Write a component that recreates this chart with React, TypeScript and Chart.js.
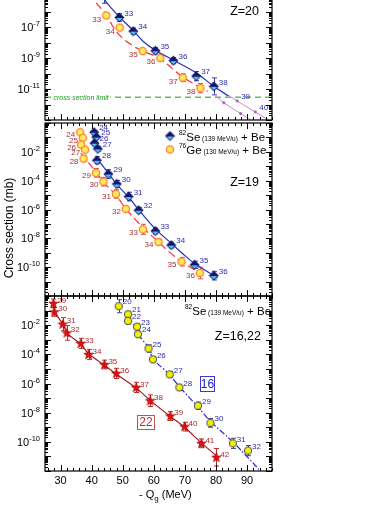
import React, { useEffect, useRef } from "react";
import { Chart, registerables } from "chart.js";

Chart.register(...registerables);

const FONT = '"Liberation Sans", Arial, Helvetica, sans-serif';

// ---------- shared x axis (-Qg, MeV)
const X_MIN = 25;
const X_MAX = 98;
const X_TICK_LABELS = [30, 40, 50, 60, 70, 80, 90];

// ---------- Z = 20 panel
const z20SeA = ["32", "33", "34", "35", "36", "37", "38"];
const z20SeQ = [44.0, 48.9, 53.4, 60.5, 66.3, 73.6, 79.3];
const z20SeSigma = [1.8e-5, 4.3e-7, 5.6e-8, 3.0e-9, 6.9e-10, 6.9e-11, 1.5e-11];
const z20SeErr = [0.7, 0.25, 0.2, 0.2, 0.2, 0.3, 0.55];

const z20GeA = ["32", "33", "34", "35", "36", "37", "38"];
const z20GeQ = [40.5, 44.7, 49.0, 56.4, 62.1, 69.3, 75.0];
const z20GeSigma = [1.6e-5, 5.8e-7, 9.5e-8, 2.9e-9, 1.0e-9, 5.5e-11, 1.15e-11];
const z20GeErr = [0.3, 0.15, 0.15, 0.1, 0.15, 0.25, 0.3];

const z20SeFitQ = [42.5, 44.0, 46.5, 48.9, 53.4, 56.6, 60.5, 66.3, 74.0, 79.2, 84.0];
const z20SeFitSigma = [2.5e-5, 6.6e-6, 1.6e-6, 4.7e-7, 6.0e-8, 1.2e-8, 3.2e-9, 7.4e-10, 1.0e-10, 1.55e-11, 3.6e-12];
const z20GeFitQ = [39.5, 40.5, 44.7, 47.3, 49.9, 53.3, 57.3, 62.1, 69.2, 75.0, 77.3];
const z20GeFitSigma = [1.8e-5, 6.6e-6, 6.3e-7, 7.9e-8, 2.0e-8, 6.3e-9, 2.5e-9, 8.9e-10, 6.3e-11, 1.26e-11, 7.1e-12];

const z20ExtA = ["39", "40"];
const z20ExtQ = [86.8, 92.6];
const z20ExtSigma = [1.7e-12, 3.3e-13];
const z20ExtLineQ = [79.3, 86.8, 92.6, 98.0];
const z20ExtLineSigma = [1.5e-11, 1.7e-12, 3.3e-13, 7.4e-14];
const z20Ext2Q = [82.5, 87.9];
const z20Ext2Sigma = [1.3e-12, 2.6e-13];
const z20Ext2LineQ = [79.3, 82.5, 87.9, 91.5];
const z20Ext2LineSigma = [4.5e-12, 1.3e-12, 2.6e-13, 9e-14];
const CROSS_SECTION_LIMIT = 3e-12;

// ---------- Z = 19 panel
const z19A = ["24", "25", "26", "27", "28", "29", "30", "31", "32", "33", "34", "35", "36"];
const z19SeQ = [40.8, 41.5, 40.9, 42.0, 41.7, 45.4, 48.1, 51.9, 55.1, 60.5, 65.6, 73.1, 79.3];
const z19SeSigma = [0.23, 0.105, 0.04, 0.016, 2.6e-3, 2.9e-4, 5.9e-5, 7.9e-6, 8.9e-7, 3.2e-8, 3.4e-9, 1.45e-10, 2.6e-11];
const z19SeErr = [0.12, 0.12, 0.12, 0.15, 0.25, 0.3, 0.25, 0.3, 0.2, 0.2, 0.2, 0.25, 0.3];
const z19GeQ = [36.3, 37.2, 36.6, 37.9, 37.4, 41.4, 43.8, 47.8, 51.0, 56.5, 61.5, 68.9, 74.8];
const z19GeSigma = [0.23, 0.093, 0.032, 0.014, 3.4e-3, 3.5e-4, 8.5e-5, 1.2e-5, 1.1e-6, 4.2e-8, 5.6e-9, 2.4e-10, 3.9e-11];
const z19GeErr = [0.12, 0.12, 0.12, 0.12, 0.2, 0.3, 0.3, 0.3, 0.15, 0.35, 0.2, 0.3, 0.4];

const z19SeFitQ = [41.5, 45.4, 48.1, 51.9, 55.1, 60.5, 65.6, 70.0, 73.1, 80.5];
const z19SeFitSigma = [4.0e-3, 3.2e-4, 5.6e-5, 7.1e-6, 1.0e-6, 4.5e-8, 4.5e-9, 6.3e-10, 1.8e-10, 1.8e-11];
const z19GeFitQ = [36.5, 41.4, 43.8, 47.8, 51.0, 56.5, 61.5, 65.0, 68.9, 75.5];
const z19GeFitSigma = [7.9e-3, 4.0e-4, 7.9e-5, 1.0e-5, 1.1e-6, 5.6e-8, 5.6e-9, 1.1e-9, 2.5e-10, 3.2e-11];

// ---------- Z = 16, 22 panel
const z22A = ["29", "30", "31", "32", "33", "34", "35", "36", "37", "38", "39", "40", "41", "42"];
const z22Q = [27.7, 28.0, 30.7, 32.0, 36.5, 39.0, 44.1, 47.9, 54.3, 58.8, 65.3, 69.9, 75.3, 80.1];
const z22Sigma = [0.31, 0.081, 0.0117, 2.95e-3, 5.6e-4, 9.8e-5, 2.0e-5, 4.9e-6, 5.4e-7, 6.6e-8, 5.9e-9, 1.1e-9, 7.9e-11, 8.7e-12];
const z22Err = [0.3, 0.3, 0.45, 0.5, 0.35, 0.35, 0.3, 0.35, 0.35, 0.4, 0.3, 0.3, 0.3, 0.6];
const z22FitQ = [27.5, 28.3, 30.7, 32.3, 36.5, 39.0, 44.1, 47.9, 54.3, 58.8, 65.3, 69.9, 75.3, 80.1];
const z22FitSigma = [0.35, 0.07, 0.012, 2.5e-3, 5.0e-4, 1.1e-4, 1.8e-5, 4.5e-6, 5.0e-7, 7.0e-8, 5.5e-9, 1.0e-9, 8.5e-11, 1.1e-11];

const z16A = ["20", "21", "22", "23", "24", "25", "26", "27", "28", "29", "30", "31", "32"];
const z16Q = [48.7, 51.7, 51.7, 54.6, 54.9, 58.3, 59.7, 65.1, 68.2, 74.2, 78.2, 85.4, 90.3];
const z16Sigma = [0.2, 0.056, 0.0195, 7.8e-3, 2.4e-3, 2.5e-4, 4.5e-5, 4.2e-6, 5.4e-7, 3.0e-8, 2.0e-9, 7.9e-11, 2.5e-11];
const z16Err = [0.45, 0.2, 0.2, 0.2, 0.2, 0.25, 0.2, 0.2, 0.2, 0.25, 0.3, 0.35, 0.35];
const z16FitQ = [53.5, 54.9, 58.3, 59.7, 65.1, 68.2, 74.2, 78.2, 85.4, 93.8];
const z16FitSigma = [0.012, 2.5e-3, 2.8e-4, 5.0e-5, 4.0e-6, 6.0e-7, 2.5e-8, 2.5e-9, 1.0e-10, 1.3e-12];

// ---------- geometry (page coordinates)
const GEOM = {
  top: { top: -60, height: 185, padTop: 10, padBottom: 2, yMin: 1e-13, yMax: 1e-2, yLabelExps: [-5, -7, -9, -11] },
  mid: { top: 113, height: 193, padTop: 10, padBottom: 10, yMin: 1e-12, yMax: 1, yLabelExps: [-2, -4, -6, -8, -10] },
  bot: { top: 286, height: 219, padTop: 10, padBottom: 34, yMin: 1e-12, yMax: 1, yLabelExps: [-2, -4, -6, -8, -10] },
};

const BLUE = "#2233bb";
const BLUE_LBL = "#2b2bb0";
const RED = "#ff2a2a";
const RED_LBL = "#a83030";
const DARKRED = "#a31515";

type Markers = ReturnType<typeof makeMarkers>;

function makeMarkers() {
  const mk = (w: number, h: number, f: (c: CanvasRenderingContext2D) => void) => {
    const c = document.createElement("canvas");
    c.width = w;
    c.height = h;
    f(c.getContext("2d")!);
    return c;
  };
  const diamond = mk(11, 11, (c) => {
    c.beginPath();
    c.moveTo(5.5, 0.5); c.lineTo(10.5, 5.5); c.lineTo(5.5, 10.5); c.lineTo(0.5, 5.5); c.closePath();
    c.fillStyle = "#14146e"; c.fill();
    c.beginPath();
    c.moveTo(2.2, 6); c.lineTo(8.8, 6); c.lineTo(5.5, 9.3); c.closePath();
    c.fillStyle = "#55c8f0"; c.fill();
  });
  const geCircle = mk(10, 10, (c) => {
    c.beginPath(); c.arc(5, 5, 3.6, 0, Math.PI * 2);
    c.fillStyle = "#fff05a"; c.fill();
    c.lineWidth = 1.3; c.strokeStyle = "#ff7a3a"; c.stroke();
  });
  const yellowCircle = mk(10, 10, (c) => {
    c.beginPath(); c.arc(5, 5, 3.7, 0, Math.PI * 2);
    c.fillStyle = "#f2f200"; c.fill();
    c.lineWidth = 1; c.strokeStyle = "#4a4a66"; c.stroke();
  });
  const star = mk(11, 11, (c) => {
    c.beginPath();
    for (let i = 0; i < 10; i++) {
      const r = i % 2 === 0 ? 5 : 2.1;
      const a = -Math.PI / 2 + (i * Math.PI) / 5;
      const px = 5.5 + r * Math.cos(a);
      const py = 5.8 + r * Math.sin(a);
      if (i === 0) c.moveTo(px, py); else c.lineTo(px, py);
    }
    c.closePath();
    c.fillStyle = "#e01010"; c.fill();
    c.lineWidth = 0.6; c.strokeStyle = "#900"; c.stroke();
  });
  const dot = mk(5, 5, (c) => {
    c.beginPath(); c.arc(2.5, 2.5, 1.4, 0, Math.PI * 2);
    c.fillStyle = "#a050b0"; c.fill();
  });
  return { diamond, geCircle, yellowCircle, star, dot };
}

const pts = (q: number[], s: number[]) => q.map((x, i) => ({ x, y: s[i] }));

const fitLine = (q: number[], s: number[], color: string, dash: number[], width = 1.2, tension = 0.35) => ({
  data: pts(q, s), showLine: true, pointRadius: 0, borderColor: color, borderWidth: width,
  borderDash: dash, tension, order: 3, fill: false,
});

const markSet = (q: number[], s: number[], style: any, extra: any) => ({
  data: pts(q, s), showLine: false, pointStyle: style, pointRadius: 4, order: 1, ...extra,
});

function rich(ctx: CanvasRenderingContext2D, x: number, y: number, parts: [string, number, number][], color: string, measureOnly = false) {
  let cx = x;
  ctx.fillStyle = color;
  ctx.textAlign = "left";
  ctx.textBaseline = "alphabetic";
  for (const [t, s, dy] of parts) {
    ctx.font = `${s}px ${FONT}`;
    if (!measureOnly) ctx.fillText(t, cx, y + dy);
    cx += ctx.measureText(t).width;
  }
  return cx - x;
}

type PanelDef = {
  geom: typeof GEOM.top;
  xLabels: boolean;
  datasets: any[];
  extra: (ctx: CanvasRenderingContext2D, chart: any, m: Markers) => void;
};

function makePlugin(def: PanelDef, m: Markers) {
  return {
    id: "panelDecor",
    beforeDatasetsDraw(chart: any) {
      const ctx = chart.ctx as CanvasRenderingContext2D;
      const ys = chart.scales.y;
      chart.data.datasets.forEach((ds: any, i: number) => {
        if (!ds.errs) return;
        const meta = chart.getDatasetMeta(i);
        ctx.save();
        ctx.strokeStyle = ds.errColor;
        ctx.lineWidth = 1;
        meta.data.forEach((el: any, j: number) => {
          const v = ds.data[j].y;
          const e = ds.errs[j];
          const y0 = ys.getPixelForValue(v * Math.pow(10, e));
          const y1 = ys.getPixelForValue(v / Math.pow(10, e));
          const x = Math.round(el.x) + 0.5;
          ctx.beginPath();
          ctx.moveTo(x, y0); ctx.lineTo(x, y1);
          ctx.moveTo(x - 2.5, y0); ctx.lineTo(x + 2.5, y0);
          ctx.moveTo(x - 2.5, y1); ctx.lineTo(x + 2.5, y1);
          ctx.stroke();
        });
        ctx.restore();
      });
    },
    afterDatasetsDraw(chart: any) {
      const ctx = chart.ctx as CanvasRenderingContext2D;
      chart.data.datasets.forEach((ds: any, i: number) => {
        if (!ds.ptLabels) return;
        const meta = chart.getDatasetMeta(i);
        ctx.save();
        ctx.font = `8px ${FONT}`;
        ctx.fillStyle = ds.labelColor;
        ctx.textAlign = ds.labelAlign;
        ctx.textBaseline = "middle";
        meta.data.forEach((el: any, j: number) => {
          ctx.fillText(ds.ptLabels[j], el.x + ds.labelDx, el.y + ds.labelDy);
        });
        ctx.restore();
      });
    },
    afterDraw(chart: any) {
      const ctx = chart.ctx as CanvasRenderingContext2D;
      const { left, right, top, bottom } = chart.chartArea;
      const xs = chart.scales.x;
      const ys = chart.scales.y;
      ctx.save();
      ctx.strokeStyle = "#000";
      ctx.lineWidth = 1.2;
      ctx.strokeRect(left, top, right - left, bottom - top);
      ctx.lineWidth = 1;
      ctx.beginPath();
      const lo = Math.floor(Math.log10(ys.min));
      const hi = Math.ceil(Math.log10(ys.max));
      for (let e = lo; e <= hi; e++) {
        for (let k = 1; k <= 9; k++) {
          const v = k * Math.pow(10, e);
          if (v < ys.min * 0.999 || v > ys.max * 1.001) continue;
          const py = Math.round(ys.getPixelForValue(v)) + 0.5;
          const len = k === 1 ? 6 : 3;
          ctx.moveTo(left, py); ctx.lineTo(left + len, py);
          ctx.moveTo(right, py); ctx.lineTo(right - len, py);
        }
      }
      for (let v = 26; v <= X_MAX; v += 2) {
        const px = Math.round(xs.getPixelForValue(v)) + 0.5;
        const len = v % 10 === 0 ? 6 : 3;
        ctx.moveTo(px, bottom); ctx.lineTo(px, bottom - len);
        ctx.moveTo(px, top); ctx.lineTo(px, top + len);
      }
      ctx.stroke();

      // y tick labels
      for (const e of def.geom.yLabelExps) {
        const py = ys.getPixelForValue(Math.pow(10, e));
        const parts: [string, number, number][] = [["10", 11, 0], [String(e), 7.5, -5]];
        const w = rich(ctx, 0, 0, parts, "#000", true);
        rich(ctx, left - 5 - w, py + 4, parts, "#000");
      }
      // x tick labels
      if (def.xLabels) {
        ctx.font = `11px ${FONT}`;
        ctx.fillStyle = "#000";
        ctx.textAlign = "center";
        ctx.textBaseline = "alphabetic";
        for (const v of X_TICK_LABELS) {
          ctx.fillText(String(v), xs.getPixelForValue(v), bottom + 13);
        }
      }
      ctx.restore();

      ctx.save();
      ctx.translate(0, -def.geom.top);
      def.extra(ctx, chart, m);
      ctx.restore();
    },
  };
}

function buildTop(m: Markers): PanelDef {
  return {
    geom: GEOM.top,
    xLabels: false,
    datasets: [
      fitLine(z20SeFitQ, z20SeFitSigma, BLUE, [], 1.2),
      fitLine(z20GeFitQ, z20GeFitSigma, RED, [8, 4], 1.2),
      fitLine(z20ExtLineQ, z20ExtLineSigma, "#c98ad6", [], 1, 0),
      fitLine(z20Ext2LineQ, z20Ext2LineSigma, "#c98ad6", [], 1, 0),
      fitLine([X_MIN, X_MAX], [CROSS_SECTION_LIMIT, CROSS_SECTION_LIMIT], "#1a9a1a", [6, 4], 1, 0),
      markSet(z20ExtQ, z20ExtSigma, m.dot, { ptLabels: z20ExtA, labelColor: BLUE_LBL, labelDx: 4, labelDy: -4, labelAlign: "left" }),
      markSet(z20Ext2Q, z20Ext2Sigma, m.dot, {}),
      markSet(z20GeQ, z20GeSigma, m.geCircle, { errs: z20GeErr, errColor: "#e05050", ptLabels: z20GeA, labelColor: RED_LBL, labelDx: -5, labelDy: 4, labelAlign: "right" }),
      markSet(z20SeQ, z20SeSigma, m.diamond, { errs: z20SeErr, errColor: "#3040b0", ptLabels: z20SeA, labelColor: BLUE_LBL, labelDx: 5, labelDy: -4, labelAlign: "left" }),
    ],
    extra: (ctx, chart) => {
      const ys = chart.scales.y;
      const py = ys.getPixelForValue(CROSS_SECTION_LIMIT) + GEOM.top.top;
      ctx.font = `italic 7px ${FONT}`;
      const t = "cross section limit";
      const w = ctx.measureText(t).width;
      ctx.fillStyle = "#fff";
      ctx.fillRect(52, py - 4, w + 3, 8);
      ctx.fillStyle = "#1a9a1a";
      ctx.textAlign = "left";
      ctx.textBaseline = "middle";
      ctx.fillText(t, 53.5, py + 0.5);
      ctx.font = `12.5px ${FONT}`;
      ctx.fillStyle = "#000";
      ctx.textAlign = "right";
      ctx.textBaseline = "alphabetic";
      ctx.fillText("Z=20", 259, 15);
    },
  };
}

function buildMid(m: Markers): PanelDef {
  return {
    geom: GEOM.mid,
    xLabels: false,
    datasets: [
      fitLine(z19SeFitQ, z19SeFitSigma, BLUE, [], 1.2),
      fitLine(z19GeFitQ, z19GeFitSigma, RED, [8, 4], 1.2),
      markSet(z19GeQ, z19GeSigma, m.geCircle, { errs: z19GeErr, errColor: "#e05050", ptLabels: z19A, labelColor: RED_LBL, labelDx: -5, labelDy: 3, labelAlign: "right" }),
      markSet(z19SeQ, z19SeSigma, m.diamond, { errs: z19SeErr, errColor: "#3040b0", ptLabels: z19A, labelColor: BLUE_LBL, labelDx: 5, labelDy: -4, labelAlign: "left" }),
    ],
    extra: (ctx, chart, mk) => {
      ctx.drawImage(mk.diamond, 170 - 5.5, 136 - 5.5);
      ctx.drawImage(mk.geCircle, 170 - 5, 149.5 - 5);
      rich(ctx, 179, 141, [["82", 6.5, -6], ["Se", 11.5, 0], [" (139 MeV/u)", 6.5, 0], [" + Be", 11.5, 0]], "#000");
      rich(ctx, 179, 154, [["76", 6.5, -6], ["Ge", 11.5, 0], [" (130 MeV/u)", 6.5, 0], [" + Be", 11.5, 0]], "#000");
      ctx.font = `12.5px ${FONT}`;
      ctx.fillStyle = "#000";
      ctx.textAlign = "right";
      ctx.textBaseline = "alphabetic";
      ctx.fillText("Z=19", 259, 186);
      ctx.save();
      ctx.translate(10, 228);
      ctx.rotate(-Math.PI / 2);
      ctx.font = `12px ${FONT}`;
      ctx.textAlign = "center";
      ctx.textBaseline = "middle";
      ctx.fillText("Cross section (mb)", 0, 0);
      ctx.restore();
    },
  };
}

function buildBot(m: Markers): PanelDef {
  return {
    geom: GEOM.bot,
    xLabels: true,
    datasets: [
      fitLine(z22FitQ, z22FitSigma, DARKRED, [], 1.1, 0.2),
      fitLine(z16FitQ, z16FitSigma, "#2a2acc", [6, 2, 1.5, 2], 1.2, 0.3),
      markSet(z16Q, z16Sigma, m.yellowCircle, { errs: z16Err, errColor: "#4040a0", ptLabels: z16A, labelColor: BLUE_LBL, labelDx: 4, labelDy: -4, labelAlign: "left" }),
      markSet(z22Q, z22Sigma, m.star, { errs: z22Err, errColor: "#b03030", ptLabels: z22A, labelColor: "#b02828", labelDx: 4, labelDy: -3, labelAlign: "left" }),
    ],
    extra: (ctx) => {
      rich(ctx, 185, 315, [["82", 6.5, -6], ["Se", 11.5, 0], [" (139 MeV/u)", 6.5, 0], [" + Be", 11.5, 0]], "#000");
      ctx.font = `12.5px ${FONT}`;
      ctx.fillStyle = "#000";
      ctx.textAlign = "right";
      ctx.textBaseline = "alphabetic";
      ctx.fillText("Z=16,22", 261, 340);

      // boxed isotope tags
      ctx.lineWidth = 1;
      ctx.strokeStyle = "#3a3ad0";
      ctx.strokeRect(200.5, 376.5, 14, 15);
      ctx.font = `12px ${FONT}`;
      ctx.fillStyle = "#2020c0";
      ctx.textAlign = "center";
      ctx.textBaseline = "middle";
      ctx.fillText("16", 207.5, 384.5);
      ctx.strokeStyle = "#c05050";
      ctx.strokeRect(137.5, 415.5, 17, 14);
      ctx.fillStyle = "#c03030";
      ctx.fillText("22", 146, 423);

      // x title
      rich(ctx, 139, 498, [["- Q", 11, 0], ["g", 8, 3], [" (MeV)", 11, 0]], "#000");
    },
  };
}

function PanelChart({ build, geom }: { build: (m: Markers) => PanelDef; geom: typeof GEOM.top }) {
  const ref = useRef<HTMLCanvasElement>(null);
  useEffect(() => {
    const markers = makeMarkers();
    const def = build(markers);
    const chart = new Chart(ref.current!, {
      type: "scatter",
      data: { datasets: def.datasets },
      options: {
        responsive: false,
        animation: false,
        devicePixelRatio: 1,
        events: [],
        layout: { padding: { left: 45, right: 118, top: geom.padTop, bottom: geom.padBottom } },
        plugins: { legend: { display: false }, tooltip: { enabled: false } },
        scales: {
          x: { type: "linear", min: X_MIN, max: X_MAX, display: false },
          y: { type: "logarithmic", min: geom.yMin, max: geom.yMax, display: false },
        },
      } as any,
      plugins: [makePlugin(def, markers) as any],
    });
    return () => chart.destroy();
  }, []);
  return (
    <canvas
      ref={ref}
      width={390}
      height={geom.height}
      style={{ position: "absolute", left: 0, top: geom.top, width: 390, height: geom.height }}
    />
  );
}

export default function App() {
  return (
    <div style={{ position: "absolute", left: 0, top: 0, width: 390, height: 505, overflow: "hidden", background: "#fff" }}>
      <PanelChart build={buildTop} geom={GEOM.top} />
      <PanelChart build={buildMid} geom={GEOM.mid} />
      <PanelChart build={buildBot} geom={GEOM.bot} />
    </div>
  );
}
